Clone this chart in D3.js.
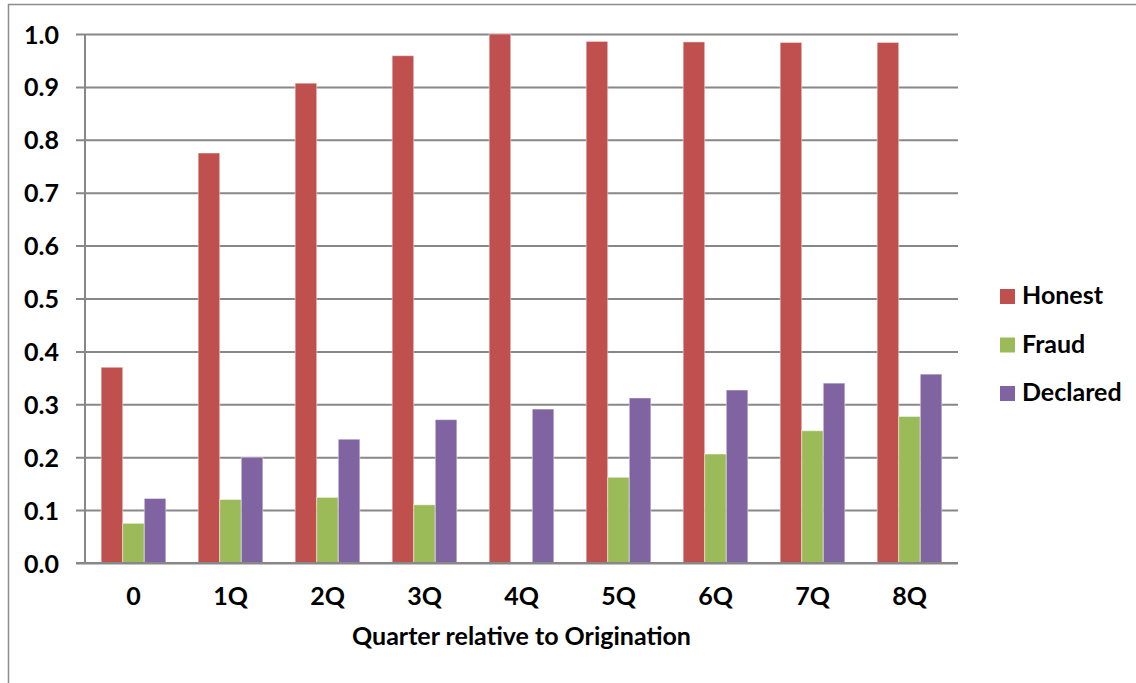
<!DOCTYPE html>
<html>
<head>
<meta charset="utf-8">
<script src="https://cdn.jsdelivr.net/npm/d3@7"></script>
<style>
  body { margin: 0; background: #fff; }
  svg { display: block; font-family: Lato, "Open Sans", sans-serif; font-weight: bold; }
</style>
</head>
<body>
<svg width="1136" height="683"></svg>
<script>
const quarters = ["0", "1Q", "2Q", "3Q", "4Q", "5Q", "6Q", "7Q", "8Q"];
const seriesNames = ["Honest", "Fraud", "Declared"];
const honest = [0.370, 0.775, 0.907, 0.959, 1.000, 0.986, 0.985, 0.984, 0.984];
const fraud = [0.075, 0.120, 0.124, 0.110, null, 0.162, 0.206, 0.250, 0.277];
const declared = [0.122, 0.200, 0.234, 0.271, 0.291, 0.312, 0.327, 0.340, 0.357];
const yTicks = [0, 0.1, 0.2, 0.3, 0.4, 0.5, 0.6, 0.7, 0.8, 0.9, 1.0];
const colors = ["#C0504D", "#9BBB59", "#8064A2"];

const plotLeft = 85, plotRight = 958, plotTop = 34, plotBottom = 563;
const gridColor = "#878787";

const svg = d3.select("svg");

// outer chart frame (runs past the cropped right and bottom edges)
svg.append("rect")
    .attr("x", 8.5).attr("y", 4.5)
    .attr("width", 1300).attr("height", 800)
    .attr("fill", "none")
    .attr("stroke", "#8c8c8c")
    .attr("stroke-width", 1.5);

const y = d3.scaleLinear().domain([0, 1]).range([plotBottom, plotTop]);
const x0 = d3.scaleBand().domain(quarters).range([plotLeft, plotRight]).padding(0);
const x1 = d3.scaleBand().domain(seriesNames)
    .range([x0.bandwidth() / 6, x0.bandwidth() * 5 / 6]);
const color = d3.scaleOrdinal().domain(seriesNames).range(colors);

// gridlines + y labels
const yAxis = d3.axisLeft(y)
    .tickValues(yTicks)
    .tickFormat(d3.format(".1f"))
    .tickSize(-(plotRight - plotLeft) - 9)
    .tickPadding(17);

const gy = svg.append("g")
    .attr("transform", `translate(${plotRight},0)`)
    .call(yAxis);
gy.select(".domain").remove();
gy.selectAll(".tick line")
    .attr("x1", 0)
    .attr("x2", -(plotRight - plotLeft) - 9)
    .attr("stroke", gridColor)
    .attr("stroke-width", 2);
gy.selectAll(".tick text")
    .attr("x", -(plotRight - plotLeft) - 26)
    .attr("dy", "0.36em")
    .attr("font-size", "25px")
    .attr("font-family", "Lato, sans-serif")
    .attr("font-weight", "bold")
    .attr("fill", "#000");

// y axis line
svg.append("line")
    .attr("x1", plotLeft).attr("x2", plotLeft)
    .attr("y1", plotTop).attr("y2", plotBottom)
    .attr("stroke", gridColor)
    .attr("stroke-width", 2);

// bars
const rows = quarters.map((q, i) => ({
    q: q,
    values: [
        { key: "Honest", value: honest[i] },
        { key: "Fraud", value: fraud[i] },
        { key: "Declared", value: declared[i] }
    ]
}));

svg.append("g").selectAll("g")
    .data(rows)
    .enter().append("g")
    .attr("transform", d => `translate(${x0(d.q)},0)`)
    .selectAll("rect")
    .data(d => d.values.filter(v => v.value != null))
    .enter().append("rect")
    .attr("x", d => x1(d.key))
    .attr("y", d => y(d.value))
    .attr("width", x1.bandwidth())
    .attr("height", d => plotBottom - y(d.value))
    .attr("fill", d => color(d.key))
    .attr("stroke", "#fff")
    .attr("stroke-opacity", 0.45)
    .attr("stroke-width", 1);

// redraw baseline over bars
svg.append("line")
    .attr("x1", plotLeft - 9).attr("x2", plotRight)
    .attr("y1", plotBottom).attr("y2", plotBottom)
    .attr("stroke", gridColor)
    .attr("stroke-width", 2);

// x labels
const xAxis = d3.axisBottom(x0).tickSize(0).tickPadding(0);
const gx = svg.append("g")
    .attr("transform", `translate(0,${plotBottom})`)
    .call(xAxis);
gx.select(".domain").remove();
gx.selectAll(".tick text")
    .attr("y", 42)
    .attr("dy", 0)
    .attr("font-size", "25px")
    .attr("font-family", "Lato, sans-serif")
    .attr("font-weight", "bold")
    .attr("fill", "#000");

// x title
svg.append("text")
    .attr("x", (plotLeft + plotRight) / 2)
    .attr("y", 645)
    .attr("text-anchor", "middle")
    .attr("font-size", "25px")
    .text("Quarter relative to Origination");

// legend
const legend = svg.append("g")
    .attr("transform", "translate(1000,289)");

legend.selectAll("rect")
    .data(seriesNames)
    .enter().append("rect")
    .attr("x", 0)
    .attr("y", (d, i) => i * 48.5)
    .attr("width", 15)
    .attr("height", 15)
    .attr("fill", color);

legend.selectAll("text")
    .data(seriesNames)
    .enter().append("text")
    .attr("x", 22)
    .attr("y", (d, i) => i * 48.5 + 15)
    .attr("font-size", "25px")
    .text(d => d);
</script>
</body>
</html>
